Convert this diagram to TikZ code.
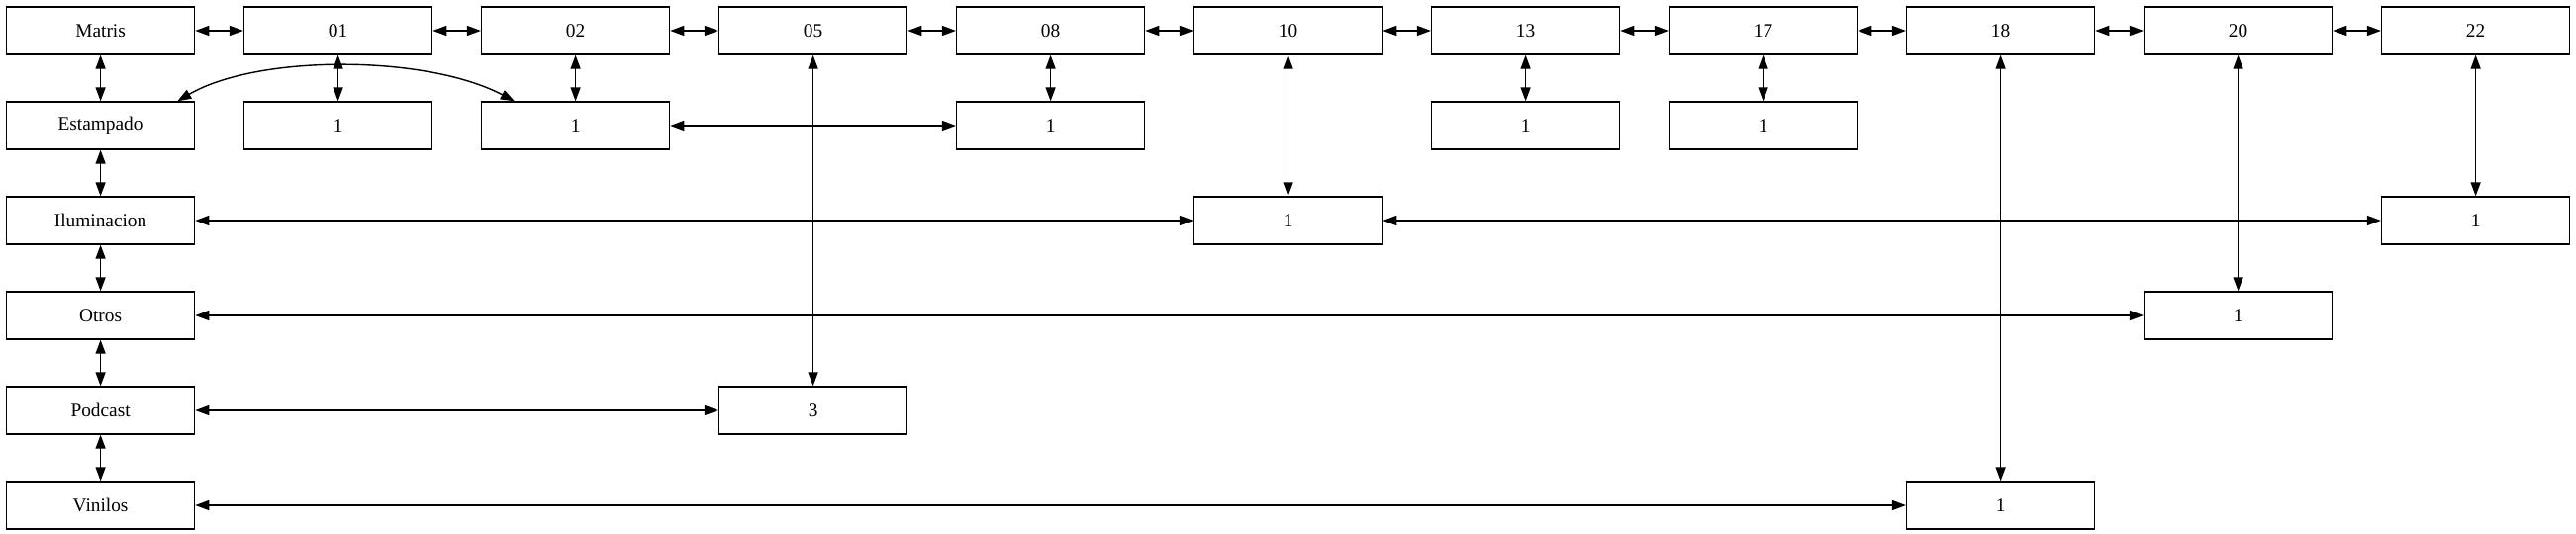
\documentclass[tikz,border=0pt]{standalone}
\usepackage{fontspec}
\setmainfont{Liberation Serif}
\usetikzlibrary{arrows.meta}
\begin{document}
\begin{tikzpicture}[x=0.02cm,y=-0.02cm,
  box/.style={draw,line width=0.8pt,minimum width=3.8cm,minimum height=0.96cm,inner sep=0pt,font=\fontsize{11pt}{13pt}\selectfont},
  dbl/.style={line width=0.8pt,{Triangle[length=0.28cm,width=0.2cm]}-{Triangle[length=0.28cm,width=0.2cm]}}]
\useasboundingbox (0,0) rectangle (2603,539);
% row 0
\node[box] (matris) at (101.6,31) {Matris};
\node[box] (c01) at (341.6,31) {01};
\node[box] (c02) at (581.6,31) {02};
\node[box] (c05) at (821.6,31) {05};
\node[box] (c08) at (1061.6,31) {08};
\node[box] (c10) at (1301.6,31) {10};
\node[box] (c13) at (1541.6,31) {13};
\node[box] (c17) at (1781.6,31) {17};
\node[box] (c18) at (2021.6,31) {18};
\node[box] (c20) at (2261.6,31) {20};
\node[box] (c22) at (2501.6,31) {22};
% row 1
\node[box] (est) at (101.6,127) {Estampado};
\node[box] (e01) at (341.6,127) {1};
\node[box] (e02) at (581.6,127) {1};
\node[box] (e08) at (1061.6,127) {1};
\node[box] (e13) at (1541.6,127) {1};
\node[box] (e17) at (1781.6,127) {1};
% row 2
\node[box] (ilu) at (101.6,223) {Iluminacion};
\node[box] (i10) at (1301.6,223) {1};
\node[box] (i22) at (2501.6,223) {1};
% row 3
\node[box] (otr) at (101.6,319) {Otros};
\node[box] (o20) at (2261.6,319) {1};
% row 4
\node[box] (pod) at (101.6,415) {Podcast};
\node[box] (p05) at (821.6,415) {3};
% row 5
\node[box] (vin) at (101.6,511) {Vinilos};
\node[box] (v18) at (2021.6,511) {1};
% top row links
\draw[dbl] (matris) -- (c01);
\draw[dbl] (c01) -- (c02);
\draw[dbl] (c02) -- (c05);
\draw[dbl] (c05) -- (c08);
\draw[dbl] (c08) -- (c10);
\draw[dbl] (c10) -- (c13);
\draw[dbl] (c13) -- (c17);
\draw[dbl] (c17) -- (c18);
\draw[dbl] (c18) -- (c20);
\draw[dbl] (c20) -- (c22);
% left column links
\draw[dbl] (matris) -- (est);
\draw[dbl] (est) -- (ilu);
\draw[dbl] (ilu) -- (otr);
\draw[dbl] (otr) -- (pod);
\draw[dbl] (pod) -- (vin);
% column links
\draw[dbl] (c01) -- (e01);
\draw[dbl] (c02) -- (e02);
\draw[dbl] (c05) -- (p05);
\draw[dbl] (c08) -- (e08);
\draw[dbl] (c10) -- (i10);
\draw[dbl] (c13) -- (e13);
\draw[dbl] (c17) -- (e17);
\draw[dbl] (c18) -- (v18);
\draw[dbl] (c20) -- (o20);
\draw[dbl] (c22) -- (i22);
% row links
\draw[dbl] ([xshift=-0.36cm]est.north east) .. controls (260,55) and (430,55) .. ([xshift=0.68cm]e02.north west);
\draw[dbl] (e02) -- (e08);
\draw[dbl] (ilu) -- (i10);
\draw[dbl] (i10) -- (i22);
\draw[dbl] (otr) -- (o20);
\draw[dbl] (pod) -- (p05);
\draw[dbl] (vin) -- (v18);
\end{tikzpicture}
\end{document}
